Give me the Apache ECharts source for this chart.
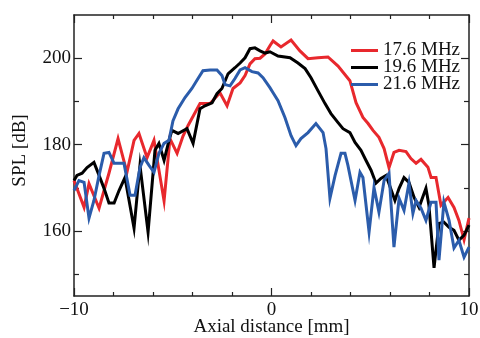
<!DOCTYPE html>
<html><head><meta charset="utf-8">
<script src="https://cdn.jsdelivr.net/npm/echarts@6/dist/echarts.min.js"></script>
<style>html,body{margin:0;padding:0;background:#fff}#c{width:480px;height:338px}</style>
</head><body><div id="c"></div><script>
// ---- data ----
const seriesNames = ['17.6 MHz', '19.6 MHz', '21.6 MHz'];
const x176 = [-10, -9.49, -9.24, -8.73, -8.48, -8.23, -7.77, -7.32, -6.96, -6.71, -6.30, -5.95, -5.44, -5.14, -4.78, -4.48, -4.23, -3.62, -3.11, -2.61, -2.25, -1.95, -1.59, -1.34, -1.09, -0.84, -0.58, -0.33, -0.08, 0.08, 0.48, 0.99, 1.44, 1.85, 2.35, 2.86, 3.37, 3.97, 4.28, 4.63, 4.89, 5.14, 5.44, 5.70, 5.95, 6.20, 6.46, 6.81, 7.06, 7.32, 7.57, 7.92, 8.08, 8.33, 8.58, 8.94, 9.24, 9.49, 9.75, 10];
const y176 = [171.7, 165.5, 171, 165.3, 169.4, 173.4, 181.4, 173.6, 181, 182.6, 177, 181, 167, 181.4, 178, 182, 184.4, 189.5, 189.5, 192, 189, 193, 194.3, 196, 198.7, 199.9, 200, 201, 202.9, 204, 202.6, 204.2, 201.7, 199.9, 200.1, 200.3, 198.2, 194.8, 189.7, 186.3, 184.9, 183.3, 181.7, 179.1, 174.7, 178.2, 178.7, 178.4, 176.8, 175.7, 176.6, 174.8, 172.4, 172.4, 166, 167.8, 165.5, 162.5, 158, 163];
const x196 = [-10, -9.85, -9.59, -9.34, -8.99, -8.73, -8.48, -8.23, -7.97, -7.72, -7.42, -6.96, -6.66, -6.25, -5.90, -5.70, -5.44, -5.19, -5.04, -4.73, -4.28, -3.97, -3.62, -3.37, -3.01, -2.76, -2.51, -2.20, -1.85, -1.59, -1.34, -1.09, -0.84, -0.58, -0.33, -0.08, 0.33, 0.94, 1.34, 1.70, 2.00, 2.35, 2.71, 3.01, 3.37, 3.62, 3.97, 4.23, 4.53, 4.78, 5.04, 5.29, 5.54, 5.80, 6.25, 6.46, 6.71, 6.96, 7.22, 7.47, 7.82, 7.97, 8.23, 8.48, 8.73, 8.99, 9.24, 9.49, 9.75, 10];
const y196 = [171.7, 172.9, 173.4, 174.7, 175.9, 172.9, 169.9, 166.5, 166.5, 169.4, 172.4, 160.7, 175.2, 159.8, 178.7, 180.3, 176.4, 181, 183.3, 182.6, 183.7, 180.3, 188.3, 189, 189.7, 191.8, 193, 196.4, 197.8, 198.9, 200.1, 202.2, 202.4, 201.7, 201.2, 201.5, 200.5, 200.1, 198.9, 197.6, 195.5, 192.5, 189.5, 187.2, 185.1, 183.7, 182.8, 180.5, 178.7, 176.4, 174.1, 171.1, 172.2, 172.9, 167.1, 169.9, 172.4, 171.3, 167.8, 165.5, 169.9, 166, 151.5, 161.8, 162.1, 160.9, 160.2, 157.9, 159.1, 161.4];
const x216 = [-10, -9.75, -9.49, -9.24, -8.99, -8.73, -8.48, -8.23, -7.97, -7.47, -7.16, -6.91, -6.66, -6.46, -6.20, -5.95, -5.70, -5.44, -5.19, -4.99, -4.73, -4.38, -4.03, -3.72, -3.47, -3.11, -2.76, -2.51, -2.35, -2.10, -1.85, -1.59, -1.34, -0.99, -0.68, -0.43, -0.08, 0.08, 0.33, 0.68, 0.99, 1.24, 1.49, 1.85, 2.25, 2.61, 2.76, 2.96, 3.22, 3.52, 3.72, 3.87, 4.23, 4.48, 4.63, 4.94, 5.19, 5.44, 5.70, 5.95, 6.20, 6.46, 6.71, 6.96, 7.16, 7.32, 7.57, 7.82, 8.08, 8.33, 8.48, 8.73, 8.99, 9.24, 9.49, 9.75, 10];
const y216 = [169.4, 171.7, 171.3, 163, 167.1, 172.9, 178, 178.2, 175.7, 175.7, 168.3, 168.3, 174.7, 177, 175.2, 173.6, 178, 180.3, 181, 185.5, 188.3, 190.9, 193, 195.3, 197.1, 197.3, 197.3, 196, 193.9, 193.6, 195.3, 197.3, 197.8, 196.9, 196.6, 195.5, 193.2, 192, 190.2, 186.3, 182.1, 179.8, 181.4, 182.8, 184.9, 182.8, 179.1, 167.6, 172.9, 178, 178, 175.2, 167.1, 173.6, 172.4, 159.8, 170.1, 164.4, 171.7, 173.4, 156.3, 167.6, 164.8, 171.1, 164.1, 167.1, 165.3, 162.5, 166.7, 166.7, 153.3, 166.7, 162.5, 156.1, 157.9, 154, 156.3];
const xTickLabels = [-10, 0, 10];
const xMinorTicks = [-8, -6, -4, -2, 2, 4, 6, 8];
const yTickLabels = [160, 180, 200];
const yMinorTicks = [150, 170, 190];
const xRange = [-10, 10];
const yRange = [145, 210];

// ---- chart ----
const FONT = 'Liberation Serif';
const AX = '#222';
const colors = ['#e8282d', '#000000', '#2b5cab'];
const zip = (xs, ys) => xs.map((x, i) => [x, ys[i]]);
const seriesData = [zip(x176, y176), zip(x196, y196), zip(x216, y216)];

function axis(kind, pos, ticks, len, labels, showLine, extra) {
  const range = kind === 'x' ? xRange : yRange;
  return Object.assign({
    type: 'value', position: pos, min: range[0], max: range[1],
    axisLine: { show: showLine, onZero: false, lineStyle: { color: AX, width: 1.5 } },
    axisTick: { show: true, inside: true, length: len, customValues: ticks, lineStyle: { color: AX, width: 1.2 } },
    axisLabel: labels ? {
      show: true, customValues: labels, fontFamily: FONT, fontSize: 19, color: '#111',
      margin: kind === 'x' ? 5 : 3,
      formatter: v => (v < 0 ? '\u2212' + Math.abs(v) : String(v))
    } : { show: false },
    splitLine: { show: false }
  }, extra || {});
}

const chart = echarts.init(document.getElementById('c'), null, { renderer: 'canvas' });
chart.setOption({
  animation: false,
  backgroundColor: '#fff',
  grid: { left: 74, right: 11, top: 15, bottom: 42, containLabel: false, outerBoundsMode: 'none' },
  xAxis: [
    axis('x', 'bottom', xTickLabels, 8, xTickLabels, true, {
      name: 'Axial distance [mm]', nameLocation: 'middle', nameGap: 22, nameMoveOverlap: false,
      nameTextStyle: { fontFamily: FONT, fontSize: 19, color: '#111' }
    }),
    axis('x', 'bottom', xMinorTicks, 4, null, false),
    axis('x', 'top', xTickLabels, 8, null, true),
    axis('x', 'top', xMinorTicks, 4, null, false)
  ],
  yAxis: [
    axis('y', 'left', yTickLabels, 8, yTickLabels, true, {
      name: 'SPL [dB]', nameLocation: 'middle', nameGap: 44, nameMoveOverlap: false,
      nameTextStyle: { fontFamily: FONT, fontSize: 19, color: '#111', padding: [0, 0, 0, 10] }
    }),
    axis('y', 'left', yMinorTicks, 5, null, false),
    axis('y', 'right', yTickLabels, 8, null, true),
    axis('y', 'right', yMinorTicks, 5, null, false)
  ],
  legend: {
    orient: 'vertical', left: 351, top: 41, icon: 'rect',
    itemWidth: 27, itemHeight: 3, itemGap: -2, padding: 0,
    textStyle: { fontFamily: FONT, fontSize: 19, color: '#111', lineHeight: 16.5 },
    data: seriesNames
  },
  series: seriesNames.map((n, i) => ({
    name: n, type: 'line', data: seriesData[i], symbol: 'none',
    xAxisIndex: 0, yAxisIndex: 0,
    lineStyle: { width: 3, color: colors[i], join: 'miter' },
    itemStyle: { color: colors[i] },
    z: 2 + i
  }))
});
</script></body></html>
